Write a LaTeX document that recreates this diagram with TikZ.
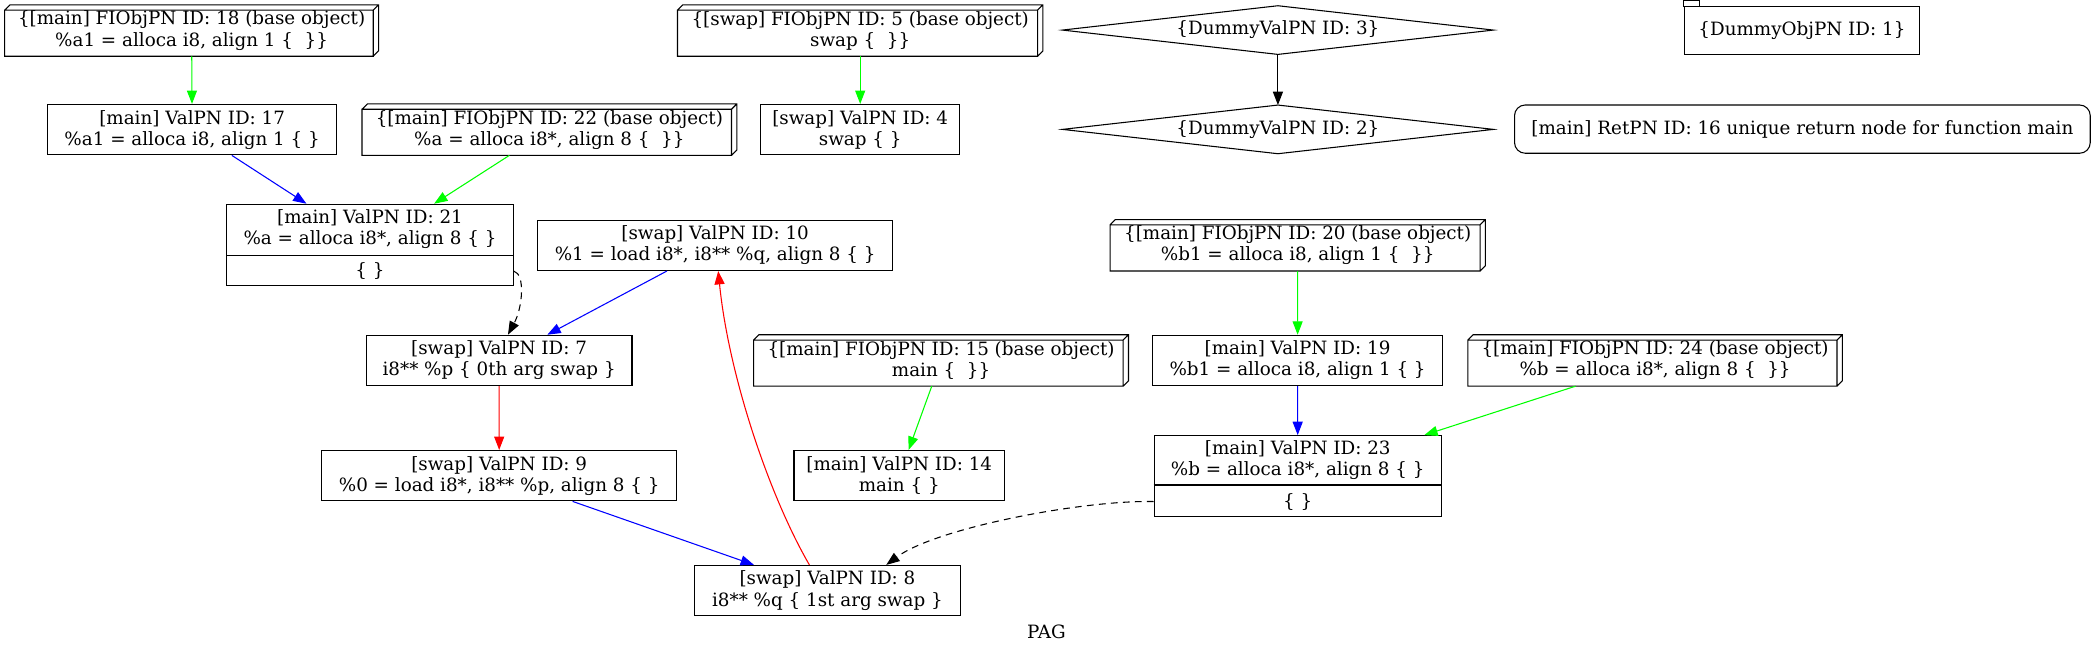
\documentclass[tikz,border=0pt]{standalone}
\usepackage{fontspec}
\setmainfont{DejaVu Serif}
\usepackage{tikz}
\usetikzlibrary{calc,positioning,arrows.meta}

\begin{document}
\begin{tikzpicture}[x=1pt, y=-1pt, font=\fontsize{13.7}{15.8}\selectfont,
  val/.style={draw, line width=0.8pt, inner sep=0pt, align=center, minimum height=37.7pt},
  obj/.style={inner sep=0pt, align=center, minimum height=38.1pt},
  dum/.style={inner sep=0pt, minimum width=322pt, minimum height=36pt},
  gv/.style={line width=0.8pt, -{Triangle[length=10pt,width=7.5pt]}}]
\useasboundingbox (0,0) rectangle (1568,488.5);
% top row
\node[obj, minimum width=279.3pt] (n18) at (143.35,22.85) {\{[main] FIObjPN ID: 18 (base object)\\ \%a1 = alloca i8, align 1 \{\ \ \}\}};
\node[obj, minimum width=273pt] (n5) at (643.5,22.85) {\{[swap] FIObjPN ID: 5 (base object)\\ swap \{\ \ \}\}};
\node[dum] (n3) at (956,22.5) {\{DummyValPN ID: 3\}};
\node[val, minimum width=176pt, minimum height=36pt] (n1) at (1348,23) {\{DummyObjPN ID: 1\}};
% second row
\node[val, minimum width=216.5pt] (n17) at (143.75,97) {[main] ValPN ID: 17\\ \%a1 = alloca i8, align 1 \{ \}};
\node[obj, minimum width=280pt] (n22) at (411,97) {\{[main] FIObjPN ID: 22 (base object)\\ \%a = alloca i8*, align 8 \{\ \ \}\}};
\node[val, minimum width=149pt] (n4) at (643.5,97) {[swap] ValPN ID: 4\\ swap \{ \}};
\node[dum] (n2) at (956,96.8) {\{DummyValPN ID: 2\}};
\node[val, rounded corners=8pt, minimum width=430.7pt, minimum height=36.1pt] (n16) at (1348.35,96.6) {[main] RetPN ID: 16 unique return node for function main};
% third row
\node[val, minimum width=214.4pt, minimum height=60.9pt] (n21) at (276.8,183.25) {};
\node[align=center] (n21t) at ([yshift=-19.2pt]n21.north) {[main] ValPN ID: 21\\ \%a = alloca i8*, align 8 \{ \}};
\node (n21p) at ([yshift=11.25pt]n21.south) {\{ \}};
\node[val, minimum width=266pt] (n10) at (535,183.5) {[swap] ValPN ID: 10\\ \%1 = load i8*, i8** \%q, align 8 \{ \}};
\node[obj, minimum width=280.4pt] (n20) at (970.8,183.5) {\{[main] FIObjPN ID: 20 (base object)\\ \%b1 = alloca i8, align 1 \{\ \ \}\}};
% fourth row
\node[val, minimum width=198.8pt] (n7) at (373.4,269.65) {[swap] ValPN ID: 7\\ i8** \%p \{ 0th arg swap \}};
\node[obj, minimum width=280pt] (n15) at (704,269.65) {\{[main] FIObjPN ID: 15 (base object)\\ main \{\ \ \}\}};
\node[val, minimum width=217.4pt] (n19) at (970.7,269.65) {[main] ValPN ID: 19\\ \%b1 = alloca i8, align 1 \{ \}};
\node[obj, minimum width=279.7pt] (n24) at (1238.15,269.65) {\{[main] FIObjPN ID: 24 (base object)\\ \%b = alloca i8*, align 8 \{\ \ \}\}};
% fifth row
\node[val, minimum width=265.9pt] (n9) at (373.45,355.85) {[swap] ValPN ID: 9\\ \%0 = load i8*, i8** \%p, align 8 \{ \}};
\node[val, minimum width=157.5pt] (n14) at (672.75,355.85) {[main] ValPN ID: 14\\ main \{ \}};
\node[val, minimum width=214.9pt, minimum height=60.5pt] (n23) at (970.85,356.15) {};
\node[align=center] (n23t) at ([yshift=-18.65pt]n23.north) {[main] ValPN ID: 23\\ \%b = alloca i8*, align 8 \{ \}};
\node (n23p) at ([yshift=11.6pt]n23.south) {\{ \}};
% bottom
\node[val, minimum width=198.8pt] (n8) at (619,441.85) {[swap] ValPN ID: 8\\ i8** \%q \{ 1st arg swap \}};
\node (pag) at (782.8,472.5) {PAG};

% object boxes, diamonds, tab, record fields
\foreach \n in {n18,n5,n22,n20,n15,n24}{
  \draw[line width=0.8pt] (\n.south west) rectangle ([shift={(-4,4)}]\n.north east)
    ([shift={(0,4)}]\n.north west) -- ++(4,-4) -- (\n.north east) -- ([shift={(0,-4)}]\n.south east) -- ([shift={(-4,0)}]\n.south east)
    ([shift={(-4,4)}]\n.north east) -- (\n.north east);
}
\foreach \n in {n3,n2}{\draw[line width=0.8pt] (\n.west) -- (\n.north) -- (\n.east) -- (\n.south) -- cycle;}
\draw[line width=0.8pt] (n1.north west) rectangle ++(12,-4.25);
\foreach \n/\d in {n21/38.4,n23/37.3}{\draw[line width=0.8pt] ([yshift=-\d pt]\n.north west) -- ([yshift=-\d pt]\n.north east);}

% edges
\foreach \a/\b/\c in {n18/n17/green, n5/n4/green, n3/n2/black, n17/n21/blue, n22/n21/green, n10/n7/blue, n7/n9/red,
  n9/n8/blue, n15/n14/green, n20/n19/green, n19/n23/blue, n24/n23/green}{\draw[gv, \c] (\a) -- (\b);}
\draw[gv, dash pattern=on 5pt off 4pt] (n21p -| n21.east) .. controls (393,205) and (391,230) .. ([xshift=6.6pt]n7.north);
\draw[gv, dash pattern=on 5pt off 4pt] (n23p -| n23.west) .. controls (810,374) and (700,395) .. ([xshift=44pt]n8.north);
\draw[gv, red] ([xshift=-13.5pt]n8.north) .. controls (575,370) and (545,280) .. ([xshift=2.3pt]n10.south);
\end{tikzpicture}
\end{document}
